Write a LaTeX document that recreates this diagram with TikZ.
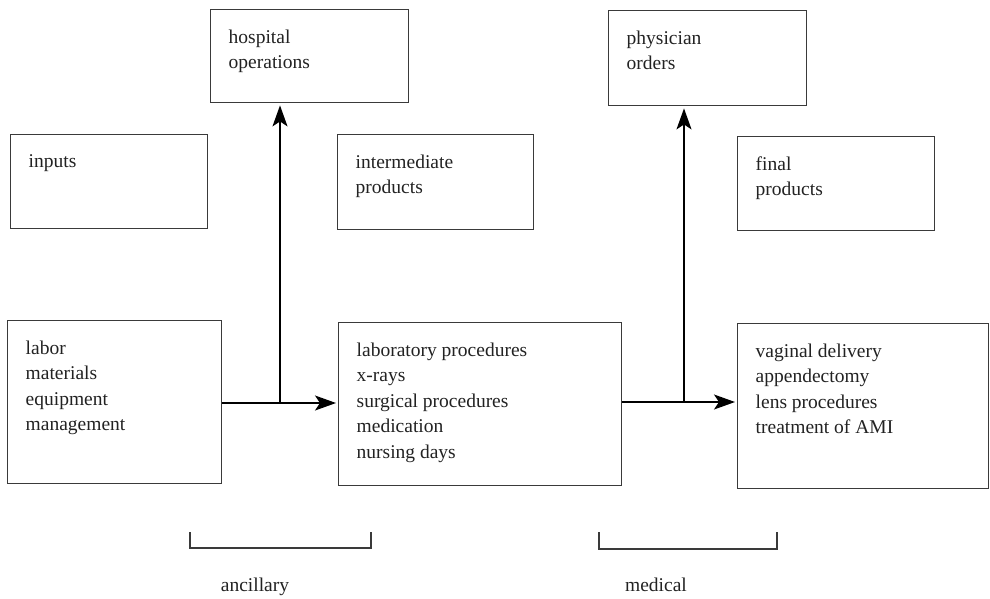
\documentclass[tikz,border=0pt]{standalone}
\usepackage{fontspec}
\setmainfont{Liberation Serif}
\usetikzlibrary{arrows.meta}
\definecolor{ink}{HTML}{222222}
\definecolor{frame}{HTML}{3A3A3A}
% box content: width, height (both in pt, outer), text
\newcommand\cellbody[3]{\parbox[c][\dimexpr#2pt-40pt\relax][t]{\dimexpr#1pt-36pt\relax}{\raggedright\fontsize{19.5pt}{25.5pt}\selectfont #3}}
\tikzset{
  x=1pt, y=-1pt,
  txtbox/.style={draw=frame, line width=1.4pt, anchor=north west,
    inner xsep=18pt, inner ysep=20pt, text=ink},
  tipshape/.tip={Stealth[length=21pt,width=15pt,inset=5pt]},
  flow/.style={draw=black, line width=1.5pt, shorten >=2pt, -tipshape},
  brace/.style={draw=frame, line width=1.1pt},
  tag/.style={anchor=base, text=ink, font=\fontsize{19.5pt}{25.5pt}\selectfont, inner sep=0pt}
}
\begin{document}
\begin{tikzpicture}
\useasboundingbox (0,0) rectangle (990,598);

% upper row: headings
\node[txtbox] (hosp) at (210,9) {\cellbody{198}{93}{hospital\\operations}};
\node[txtbox] (inputs) at (10,134) {\cellbody{197}{94}{inputs}};
\node[txtbox] (inter) at (337,134) {\cellbody{196}{95}{intermediate\\products}};
\node[txtbox] (phys) at (608,10) {\cellbody{198}{95}{physician\\orders}};
\node[txtbox] (final) at (737,136) {\cellbody{197}{94}{final\\products}};

% lower row: contents
\node[txtbox] (labor) at (7,320) {\cellbody{214}{163}{labor\\materials\\equipment\\management}};
\node[txtbox] (lab) at (338,322) {\cellbody{283}{163}{laboratory procedures\\x-rays\\surgical procedures\\medication\\nursing days}};
\node[txtbox] (vag) at (737,323) {\cellbody{251}{165}{vaginal delivery\\appendectomy\\lens procedures\\treatment of AMI}};

% junctions where the feedback lines branch off
\coordinate (j1) at (280,403);
\coordinate (j2) at (684,402);

\draw[flow] (labor.east |- j1) -- (lab.west |- j1);
\draw[flow] (j1) -- (hosp.south -| j1);
\draw[flow] (lab.east |- j2) -- (vag.west |- j2);
\draw[flow] (j2) -- (phys.south -| j2);

% brackets with their labels
\coordinate (a1) at (190,532);
\coordinate (a2) at (371,532);
\coordinate (m1) at (599,532);
\coordinate (m2) at (777,532);
\draw[brace] (a1) -- ++(0,16) -| (a2);
\draw[brace] (m1) -- ++(0,17) -| (m2);
\node[tag] (anc) at (255,591) {ancillary};
\node[tag] (med) at (656,591) {medical};
\end{tikzpicture}
\end{document}
